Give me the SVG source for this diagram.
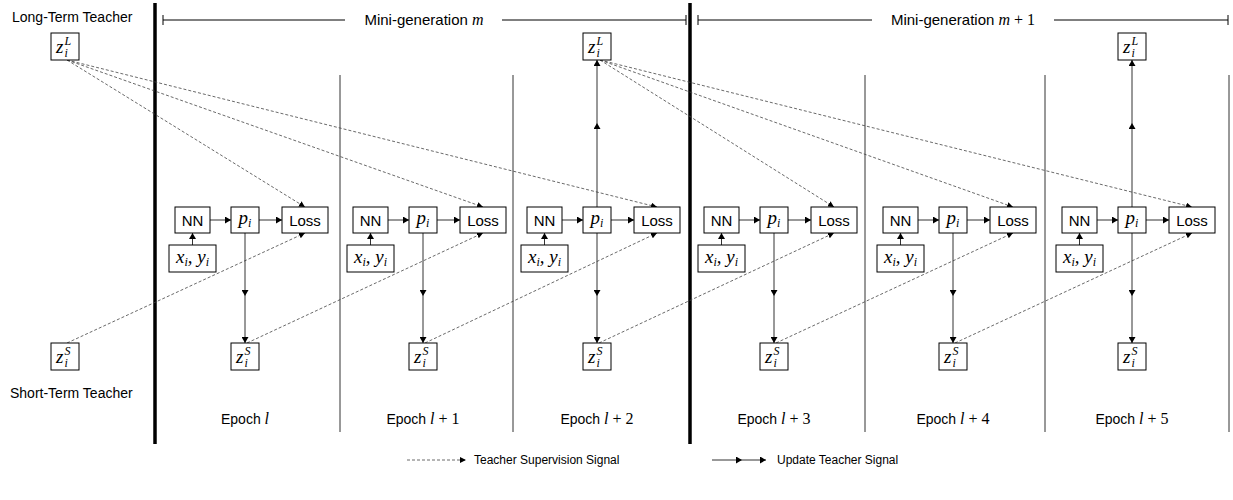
<svg xmlns="http://www.w3.org/2000/svg" width="1233" height="500" viewBox="0 0 1233 500">
<style>
.box{fill:#fff;stroke:#000;stroke-width:1}
.lbl{font-family:"Liberation Sans",Arial,sans-serif;font-size:14px;fill:#000}
.hd{font-family:"Liberation Sans",Arial,sans-serif;font-size:15px;fill:#000}
.lg{font-family:"Liberation Sans",Arial,sans-serif;font-size:12px;fill:#000}
.bt{font-family:"Liberation Sans",Arial,sans-serif;font-size:15px;fill:#000;text-anchor:middle}
.m{font-family:"Liberation Serif","DejaVu Serif",serif;font-style:italic;font-size:19px;fill:#000}
.mu{font-family:"Liberation Serif","DejaVu Serif",serif;font-size:16px}
.mi{font-family:"Liberation Serif","DejaVu Serif",serif;font-style:italic;font-size:16px}
.s{font-size:12px}
.c{text-anchor:middle}
.thick{stroke:#000;stroke-width:3.5}
.thin{stroke:#333;stroke-width:1}
.tick{stroke:#000;stroke-width:1;fill:none}
.dash{stroke:#444;stroke-width:0.8;stroke-dasharray:3 2;fill:none;marker-end:url(#ad)}
.upd{stroke:#333;stroke-width:1;fill:none;marker-mid:url(#a);marker-end:url(#a)}
.flow{stroke:#333;stroke-width:1;fill:none;marker-end:url(#a)}
</style>
<defs>
<marker id="a" viewBox="0 0 6 7" markerWidth="6" markerHeight="7" refX="6" refY="3.5" orient="auto" markerUnits="userSpaceOnUse"><path d="M0,0 L6,3.5 L0,7 z" fill="#000"/></marker>
<marker id="ad" viewBox="0 0 6 6" markerWidth="6" markerHeight="6" refX="6" refY="3" orient="auto" markerUnits="userSpaceOnUse"><path d="M0,0 L6,3 L0,6 z" fill="#000"/></marker>
</defs>

<g id="dividers">
<line class="thick" x1="155" y1="3" x2="155" y2="444"/>
<line class="thick" x1="690" y1="3" x2="690" y2="444"/>
<line class="thin" x1="340" y1="75" x2="340" y2="432"/>
<line class="thin" x1="513" y1="75" x2="513" y2="432"/>
<line class="thin" x1="865" y1="75" x2="865" y2="432"/>
<line class="thin" x1="1045" y1="75" x2="1045" y2="432"/>
<line class="thin" x1="1229" y1="75" x2="1229" y2="432"/>
</g>

<g id="header">
<path class="tick" d="M163,15 V25 M163,20 H345 M502,20 H686 M686,15 V25"/>
<text class="hd c" x="424" y="25">Mini-generation <tspan class="mi">m</tspan></text>
<path class="tick" d="M698,15 V25 M698,20 H872 M1054,20 H1228 M1228,15 V25"/>
<text class="hd c" x="963" y="25">Mini-generation <tspan class="mi">m</tspan><tspan class="mu"> + 1</tspan></text>
</g>

<g id="labels">
<text class="lbl" x="12" y="22">Long-Term Teacher</text>
<text class="lbl" x="10" y="398">Short-Term Teacher</text>
<text class="lbl c" x="245" y="424">Epoch <tspan class="mi">l</tspan></text>
<text class="lbl c" x="423" y="424">Epoch <tspan class="mi">l</tspan><tspan class="mu"> + 1</tspan></text>
<text class="lbl c" x="597" y="424">Epoch <tspan class="mi">l</tspan><tspan class="mu"> + 2</tspan></text>
<text class="lbl c" x="774" y="424">Epoch <tspan class="mi">l</tspan><tspan class="mu"> + 3</tspan></text>
<text class="lbl c" x="953" y="424">Epoch <tspan class="mi">l</tspan><tspan class="mu"> + 4</tspan></text>
<text class="lbl c" x="1132" y="424">Epoch <tspan class="mi">l</tspan><tspan class="mu"> + 5</tspan></text>
</g>

<g id="connectors">
<line class="dash" x1="67" y1="60" x2="305" y2="207"/>
<line class="dash" x1="67" y1="60" x2="483" y2="207"/>
<line class="dash" x1="67" y1="60" x2="657" y2="207"/>
<line class="dash" x1="600" y1="60" x2="834" y2="207"/>
<line class="dash" x1="600" y1="60" x2="1013" y2="207"/>
<line class="dash" x1="600" y1="60" x2="1192" y2="207"/>
<line class="dash" x1="67" y1="343" x2="305" y2="233"/>
<line class="dash" x1="247" y1="343" x2="483" y2="233"/>
<line class="dash" x1="425" y1="343" x2="657" y2="233"/>
<line class="dash" x1="599" y1="343" x2="834" y2="233"/>
<line class="dash" x1="776" y1="343" x2="1013" y2="233"/>
<line class="dash" x1="955" y1="343" x2="1192" y2="233"/>
<path class="upd" d="M245,233 L245,296 L245,343"/>
<path class="upd" d="M423,233 L423,296 L423,343"/>
<path class="upd" d="M597,233 L597,296 L597,343"/>
<path class="upd" d="M597,207 L597,123 L597,60"/>
<path class="upd" d="M774,233 L774,296 L774,343"/>
<path class="upd" d="M953,233 L953,296 L953,343"/>
<path class="upd" d="M1132,233 L1132,296 L1132,343"/>
<path class="upd" d="M1132,207 L1132,123 L1132,60"/>
<path class="flow" d="M210,220 H231"/><path class="flow" d="M259,220 H282"/><path class="flow" d="M192.5,245 V233"/>
<path class="flow" d="M388,220 H409"/><path class="flow" d="M437,220 H460"/><path class="flow" d="M370.5,245 V233"/>
<path class="flow" d="M562,220 H583"/><path class="flow" d="M611,220 H634"/><path class="flow" d="M544.5,245 V233"/>
<path class="flow" d="M739,220 H760"/><path class="flow" d="M788,220 H811"/><path class="flow" d="M721.5,245 V233"/>
<path class="flow" d="M918,220 H939"/><path class="flow" d="M967,220 H990"/><path class="flow" d="M900.5,245 V233"/>
<path class="flow" d="M1097,220 H1118"/><path class="flow" d="M1146,220 H1169"/><path class="flow" d="M1079.5,245 V233"/>
</g>

<g id="teacher-long">
<rect class="box" x="51" y="33" width="28" height="27"/>
<text class="m" x="56" y="53">z</text><text class="m s" x="64.5" y="45">L</text><text class="m s" x="64.5" y="57">i</text>
</g>
<g id="teacher-short">
<rect class="box" x="51" y="343" width="28" height="27"/>
<text class="m" x="56" y="363">z</text><text class="m s" x="64.5" y="355">S</text><text class="m s" x="64.5" y="367">i</text>
</g>

<g id="epoch-0">
<rect class="box" x="175" y="207" width="35" height="26"/><text class="bt" x="192.5" y="225.5">NN</text>
<rect class="box" x="231" y="207" width="28" height="26"/><text class="m c" x="245" y="224">p<tspan class="s" dy="3">i</tspan></text>
<rect class="box" x="282" y="207" width="46" height="26"/><text class="bt" x="305" y="225.5">Loss</text>
<rect class="box" x="169" y="245" width="47" height="27"/><text class="m c" x="192.5" y="263">x<tspan class="s" dy="3">i</tspan><tspan dy="-3">, y</tspan><tspan class="s" dy="3">i</tspan></text>
<rect class="box" x="231" y="343" width="28" height="27"/><text class="m" x="236" y="363">z</text><text class="m s" x="244.5" y="355">S</text><text class="m s" x="244.5" y="367">i</text>
</g>
<g id="epoch-1">
<rect class="box" x="353" y="207" width="35" height="26"/><text class="bt" x="370.5" y="225.5">NN</text>
<rect class="box" x="409" y="207" width="28" height="26"/><text class="m c" x="423" y="224">p<tspan class="s" dy="3">i</tspan></text>
<rect class="box" x="460" y="207" width="46" height="26"/><text class="bt" x="483" y="225.5">Loss</text>
<rect class="box" x="347" y="245" width="47" height="27"/><text class="m c" x="370.5" y="263">x<tspan class="s" dy="3">i</tspan><tspan dy="-3">, y</tspan><tspan class="s" dy="3">i</tspan></text>
<rect class="box" x="409" y="343" width="28" height="27"/><text class="m" x="414" y="363">z</text><text class="m s" x="422.5" y="355">S</text><text class="m s" x="422.5" y="367">i</text>
</g>
<g id="epoch-2">
<rect class="box" x="583" y="33" width="28" height="27"/><text class="m" x="588" y="53">z</text><text class="m s" x="596.5" y="45">L</text><text class="m s" x="596.5" y="57">i</text>
<rect class="box" x="527" y="207" width="35" height="26"/><text class="bt" x="544.5" y="225.5">NN</text>
<rect class="box" x="583" y="207" width="28" height="26"/><text class="m c" x="597" y="224">p<tspan class="s" dy="3">i</tspan></text>
<rect class="box" x="634" y="207" width="46" height="26"/><text class="bt" x="657" y="225.5">Loss</text>
<rect class="box" x="521" y="245" width="47" height="27"/><text class="m c" x="544.5" y="263">x<tspan class="s" dy="3">i</tspan><tspan dy="-3">, y</tspan><tspan class="s" dy="3">i</tspan></text>
<rect class="box" x="583" y="343" width="28" height="27"/><text class="m" x="588" y="363">z</text><text class="m s" x="596.5" y="355">S</text><text class="m s" x="596.5" y="367">i</text>
</g>
<g id="epoch-3">
<rect class="box" x="704" y="207" width="35" height="26"/><text class="bt" x="721.5" y="225.5">NN</text>
<rect class="box" x="760" y="207" width="28" height="26"/><text class="m c" x="774" y="224">p<tspan class="s" dy="3">i</tspan></text>
<rect class="box" x="811" y="207" width="46" height="26"/><text class="bt" x="834" y="225.5">Loss</text>
<rect class="box" x="698" y="245" width="47" height="27"/><text class="m c" x="721.5" y="263">x<tspan class="s" dy="3">i</tspan><tspan dy="-3">, y</tspan><tspan class="s" dy="3">i</tspan></text>
<rect class="box" x="760" y="343" width="28" height="27"/><text class="m" x="765" y="363">z</text><text class="m s" x="773.5" y="355">S</text><text class="m s" x="773.5" y="367">i</text>
</g>
<g id="epoch-4">
<rect class="box" x="883" y="207" width="35" height="26"/><text class="bt" x="900.5" y="225.5">NN</text>
<rect class="box" x="939" y="207" width="28" height="26"/><text class="m c" x="953" y="224">p<tspan class="s" dy="3">i</tspan></text>
<rect class="box" x="990" y="207" width="46" height="26"/><text class="bt" x="1013" y="225.5">Loss</text>
<rect class="box" x="877" y="245" width="47" height="27"/><text class="m c" x="900.5" y="263">x<tspan class="s" dy="3">i</tspan><tspan dy="-3">, y</tspan><tspan class="s" dy="3">i</tspan></text>
<rect class="box" x="939" y="343" width="28" height="27"/><text class="m" x="944" y="363">z</text><text class="m s" x="952.5" y="355">S</text><text class="m s" x="952.5" y="367">i</text>
</g>
<g id="epoch-5">
<rect class="box" x="1118" y="33" width="28" height="27"/><text class="m" x="1123" y="53">z</text><text class="m s" x="1131.5" y="45">L</text><text class="m s" x="1131.5" y="57">i</text>
<rect class="box" x="1062" y="207" width="35" height="26"/><text class="bt" x="1079.5" y="225.5">NN</text>
<rect class="box" x="1118" y="207" width="28" height="26"/><text class="m c" x="1132" y="224">p<tspan class="s" dy="3">i</tspan></text>
<rect class="box" x="1169" y="207" width="46" height="26"/><text class="bt" x="1192" y="225.5">Loss</text>
<rect class="box" x="1056" y="245" width="47" height="27"/><text class="m c" x="1079.5" y="263">x<tspan class="s" dy="3">i</tspan><tspan dy="-3">, y</tspan><tspan class="s" dy="3">i</tspan></text>
<rect class="box" x="1118" y="343" width="28" height="27"/><text class="m" x="1123" y="363">z</text><text class="m s" x="1131.5" y="355">S</text><text class="m s" x="1131.5" y="367">i</text>
</g>

<g id="legend">
<line class="dash" x1="407" y1="460" x2="466" y2="460"/>
<text class="lg" x="474" y="464">Teacher Supervision Signal</text>
<path class="upd" d="M712,460 L742,460 L766,460"/>
<text class="lg" x="777" y="464">Update Teacher Signal</text>
</g>
</svg>
